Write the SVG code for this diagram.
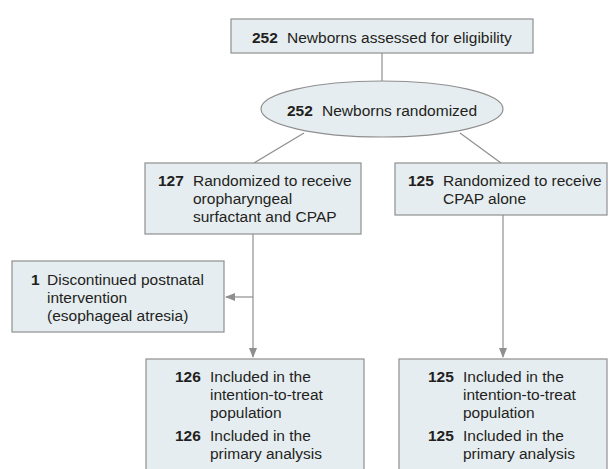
<svg xmlns="http://www.w3.org/2000/svg" width="610" height="469" viewBox="0 0 610 469">
<style>
.box{fill:#e6edf1;stroke:#8f8f8f;stroke-width:1.2}
.ln{stroke:#8f8f8f;stroke-width:1.2;fill:none}
text{font-family:"Liberation Sans",Arial,sans-serif;font-size:15.5px;fill:#231f20}
.n{font-weight:bold}
</style>
<defs>
<marker id="ah" markerWidth="10" markerHeight="8" refX="9" refY="4" orient="auto" markerUnits="userSpaceOnUse">
<path d="M0,0 L10,4 L0,8 z" fill="#8f8f8f"/>
</marker>
</defs>
<rect width="610" height="469" fill="#fff"/>
<g id="connectors">
<line class="ln" x1="382" y1="53" x2="382" y2="81"/>
<line class="ln" x1="304" y1="133" x2="254" y2="163"/>
<line class="ln" x1="460" y1="133" x2="501" y2="163"/>
<line class="ln" x1="253" y1="234" x2="253" y2="357" marker-end="url(#ah)"/>
<line class="ln" x1="253" y1="297" x2="226" y2="297" marker-end="url(#ah)"/>
<line class="ln" x1="503" y1="215" x2="503" y2="357" marker-end="url(#ah)"/>
</g>
<g id="assessed">
<rect class="box" x="231" y="19" width="302" height="34"/>
<text x="252" y="43" class="n">252</text>
<text x="287" y="43">Newborns assessed for eligibility</text>
</g>
<g id="randomized">
<ellipse class="box" cx="382" cy="109" rx="121" ry="28"/>
<text x="287" y="116" class="n">252</text>
<text x="322" y="116">Newborns randomized</text>
</g>
<g id="surfactant">
<rect class="box" x="145" y="163" width="216" height="71"/>
<text x="158" y="186" class="n">127</text>
<text x="193" y="186">Randomized to receive</text>
<text x="193" y="204">oropharyngeal</text>
<text x="193" y="222">surfactant and CPAP</text>
</g>
<g id="cpap">
<rect class="box" x="395" y="163" width="212" height="52"/>
<text x="408" y="186" class="n">125</text>
<text x="443" y="186">Randomized to receive</text>
<text x="443" y="204">CPAP alone</text>
</g>
<g id="discontinued">
<rect class="box" x="12" y="261" width="212" height="71"/>
<text x="31" y="285" class="n">1</text>
<text x="47" y="285">Discontinued postnatal</text>
<text x="47" y="303">intervention</text>
<text x="47" y="321">(esophageal atresia)</text>
</g>
<g id="included-left">
<rect class="box" x="146" y="359" width="218" height="115"/>
<text x="175" y="382" class="n">126</text>
<text x="210" y="382">Included in the</text>
<text x="210" y="400">intention-to-treat</text>
<text x="210" y="418">population</text>
<text x="175" y="441" class="n">126</text>
<text x="210" y="441">Included in the</text>
<text x="210" y="459">primary analysis</text>
</g>
<g id="included-right">
<rect class="box" x="399" y="359" width="208" height="115"/>
<text x="428" y="382" class="n">125</text>
<text x="463" y="382">Included in the</text>
<text x="463" y="400">intention-to-treat</text>
<text x="463" y="418">population</text>
<text x="428" y="441" class="n">125</text>
<text x="463" y="441">Included in the</text>
<text x="463" y="459">primary analysis</text>
</g>
</svg>
